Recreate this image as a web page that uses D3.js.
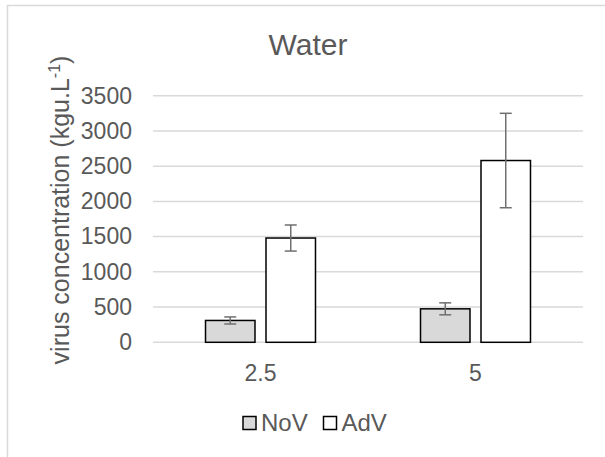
<!DOCTYPE html>
<html>
<head>
<meta charset="utf-8">
<title>Water</title>
<script src="https://cdn.jsdelivr.net/npm/d3@7"></script>
<style>
    body { margin: 0; background: #fff; }
    text { font-family: "Liberation Sans", Arial, sans-serif; fill: #595959; }
</style>
</head>
<body>
<div id="chart"></div>
<script>
    // values
    var categories = ["2.5", "5"];
    var seriesNames = ["NoV", "AdV"];
    var novValues = [310, 475];
    var novErrors = [50, 85];
    var advValues = [1480, 2580];
    var advErrors = [185, 670];
    var yTicks = [0, 500, 1000, 1500, 2000, 2500, 3000, 3500];

    var fills = { NoV: "#d9d9d9", AdV: "#ffffff" };

    var width = 605, height = 457;
    var plot = { left: 153, right: 583, top: 95.7, bottom: 342.3 };

    var svg = d3.select("#chart").append("svg")
        .attr("width", width)
        .attr("height", height);

    // chart frame (continues past the picture edge)
    svg.append("rect")
        .attr("x", 7.5).attr("y", 5.5)
        .attr("width", 620).attr("height", 470)
        .attr("fill", "none")
        .attr("stroke", "#d9d9d9")
        .attr("stroke-width", 1.5);

    var x = d3.scaleBand().domain(categories).range([plot.left, plot.right]);
    var xs = d3.scaleBand().domain(seriesNames).range([0, x.bandwidth()])
        .paddingInner(0.182).paddingOuter(0.868);
    var y = d3.scaleLinear().domain([0, 3500]).range([plot.bottom, plot.top]);

    // grid lines
    svg.append("g").selectAll("line")
        .data(yTicks)
        .enter().append("line")
        .attr("x1", plot.left).attr("x2", plot.right)
        .attr("y1", function(d) { return y(d); })
        .attr("y2", function(d) { return y(d); })
        .attr("stroke", "#d9d9d9")
        .attr("stroke-width", 1.5);

    // y tick labels
    var yAxis = d3.axisLeft(y).tickValues(yTicks).tickFormat(d3.format("d"))
        .tickSize(0).tickPadding(0);
    var gy = svg.append("g")
        .attr("transform", "translate(132,0)")
        .call(yAxis);
    gy.select(".domain").remove();
    gy.selectAll("text")
        .attr("font-size", "23px")
        .attr("font-family", "Liberation Sans, Arial, sans-serif")
        .attr("fill", "#595959");

    // x tick labels
    var xAxis = d3.axisBottom(x).tickSize(0).tickPadding(0);
    var gx = svg.append("g")
        .attr("transform", "translate(0,365)")
        .call(xAxis);
    gx.select(".domain").remove();
    gx.selectAll("text")
        .attr("font-size", "23px")
        .attr("font-family", "Liberation Sans, Arial, sans-serif")
        .attr("fill", "#595959");

    var rows = [];
    categories.forEach(function(c, i) {
        rows.push({ cat: c, s: "NoV", v: novValues[i], e: novErrors[i] });
        rows.push({ cat: c, s: "AdV", v: advValues[i], e: advErrors[i] });
    });

    // bars
    svg.append("g").selectAll("rect")
        .data(rows)
        .enter().append("rect")
        .attr("x", function(d) { return x(d.cat) + xs(d.s); })
        .attr("y", function(d) { return y(d.v); })
        .attr("width", xs.bandwidth())
        .attr("height", function(d) { return y(0) - y(d.v); })
        .attr("fill", function(d) { return fills[d.s]; })
        .attr("stroke", "#000")
        .attr("stroke-width", 1.5);

    // error bars
    var eb = svg.append("g").selectAll("g")
        .data(rows)
        .enter().append("g")
        .attr("stroke", "#6f6f6f")
        .attr("stroke-width", 1.5);
    function cx(d) { return x(d.cat) + xs(d.s) + xs.bandwidth() / 2; }
    eb.append("line")
        .attr("x1", cx).attr("x2", cx)
        .attr("y1", function(d) { return y(d.v + d.e); })
        .attr("y2", function(d) { return y(d.v - d.e); });
    eb.append("line")
        .attr("x1", function(d) { return cx(d) - 6; })
        .attr("x2", function(d) { return cx(d) + 6; })
        .attr("y1", function(d) { return y(d.v + d.e); })
        .attr("y2", function(d) { return y(d.v + d.e); });
    eb.append("line")
        .attr("x1", function(d) { return cx(d) - 6; })
        .attr("x2", function(d) { return cx(d) + 6; })
        .attr("y1", function(d) { return y(d.v - d.e); })
        .attr("y2", function(d) { return y(d.v - d.e); });

    // title
    svg.append("text")
        .attr("x", 308).attr("y", 55)
        .attr("text-anchor", "middle")
        .attr("font-size", "30px")
        .text("Water");

    // y axis title
    var yt = svg.append("text")
        .attr("transform", "translate(69,210) rotate(-90)")
        .attr("text-anchor", "middle")
        .attr("font-size", "25px");
    yt.append("tspan").text("virus concentration (kgu.L");
    yt.append("tspan").attr("dy", -9).attr("font-size", "16px").text("-1");
    yt.append("tspan").attr("dy", 9).text(")");

    // legend
    var legend = svg.append("g").selectAll("g")
        .data(seriesNames)
        .enter().append("g")
        .attr("transform", function(d, i) { return "translate(" + (243 + i * 80.5) + ",416.5)"; });
    legend.append("rect")
        .attr("width", 13).attr("height", 13)
        .attr("fill", function(d) { return fills[d]; })
        .attr("stroke", "#000")
        .attr("stroke-width", 1.5);
    legend.append("text")
        .attr("x", 18).attr("y", 14)
        .attr("font-size", "24px")
        .text(function(d) { return d; });
</script>
</body>
</html>
